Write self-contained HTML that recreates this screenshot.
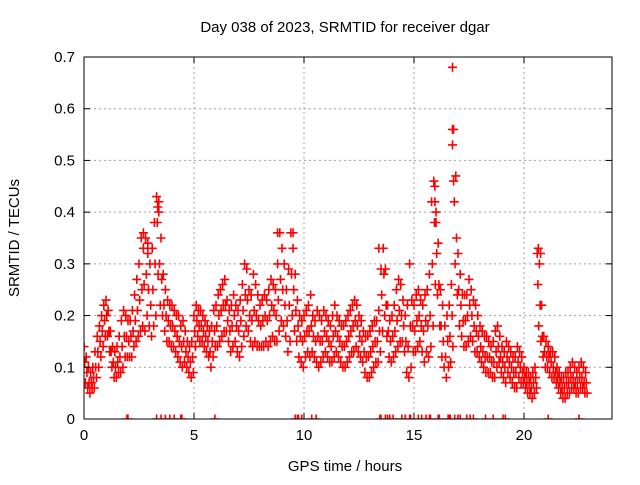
<!DOCTYPE html>
<html><head><meta charset="utf-8"><style>
body{margin:0;background:#fff}
svg text{font-family:"Liberation Sans",sans-serif;font-size:15px;fill:#000}
</style></head><body>
<svg id="chart" width="640" height="480" viewBox="0 0 640 480" xmlns="http://www.w3.org/2000/svg">
<rect width="640" height="480" fill="#fff"/>
<text x="345" y="32" text-anchor="middle">Day 038 of 2023, SRMTID for receiver dgar</text>
<text transform="translate(19,238) rotate(-90)" text-anchor="middle">SRMTID / TECUs</text>
<text x="345" y="471" text-anchor="middle">GPS time / hours</text>
<g id="grid"></g>
<g id="marks"></g>
<g id="axes"></g>
</svg>
<script>
const xTicks=[0,5,10,15,20];
const yTicks=[0,0.1,0.2,0.3,0.4,0.5,0.6,0.7];
const yTickLabels=["0","0.1","0.2","0.3","0.4","0.5","0.6","0.7"];
const startTime=0, timeStep=0.1;
const srmtidHigh=[.14,.12,.10,.09,.10,.13,.16,.18,.20,.22,
.23,.21,.17,.14,.13,.14,.16,.19,.21,.20,
.19,.19,.21,.24,.27,.30,.35,.33,.35,.32,
.30,.33,.38,.43,.42,.35,.28,.25,.23,.22,
.22,.21,.20,.20,.18,.19,.17,.15,.14,.15,
.20,.22,.21,.21,.20,.19,.18,.17,.18,.21,
.22,.24,.25,.26,.27,.23,.21,.22,.24,.22,
.21,.23,.26,.30,.29,.25,.24,.28,.26,.24,
.22,.23,.24,.23,.25,.27,.26,.25,.30,.36,
.33,.30,.25,.29,.36,.33,.28,.23,.20,.19,
.20,.21,.22,.24,.20,.19,.21,.20,.19,.21,
.20,.19,.18,.20,.22,.20,.19,.18,.18,.19,
.20,.21,.22,.23,.22,.20,.19,.17,.16,.16,
.17,.18,.19,.19,.21,.29,.33,.29,.22,.19,
.20,.22,.25,.27,.26,.23,.20,.22,.30,.23,
.22,.24,.25,.23,.22,.24,.25,.28,.42,.46,
.40,.34,.25,.22,.18,.20,.22,.26,.56,.47,
.32,.28,.24,.24,.24,.27,.25,.23,.22,.20,
.18,.17,.16,.16,.15,.14,.15,.17,.18,.16,
.14,.13,.15,.14,.13,.12,.12,.14,.13,.12,
.10,.09,.09,.08,.09,.10,.32,.30,.22,.16,
.15,.14,.13,.13,.12,.10,.09,.08,.08,.09,
.09,.10,.11,.10,.09,.10,.11,.10,.09];
const srmtidMid=[.11,.09,.07,.07,.08,.10,.13,.15,.17,.19,
.20,.17,.13,.11,.10,.11,.12,.14,.16,.16,
.15,.16,.17,.19,.21,.23,.25,.26,.28,.25,
.22,.25,.30,.38,.30,.27,.22,.20,.19,.18,
.18,.17,.16,.15,.14,.15,.13,.12,.11,.12,
.17,.19,.18,.18,.17,.16,.15,.13,.15,.17,
.18,.20,.21,.22,.22,.19,.17,.18,.20,.18,
.17,.19,.21,.24,.23,.20,.19,.21,.20,.19,
.18,.19,.20,.19,.20,.22,.21,.20,.23,.27,
.25,.22,.19,.22,.28,.25,.21,.18,.16,.15,
.16,.17,.17,.18,.16,.15,.16,.15,.15,.17,
.16,.15,.14,.16,.17,.16,.15,.14,.14,.15,
.16,.17,.18,.19,.18,.16,.15,.13,.12,.12,
.13,.14,.15,.15,.17,.24,.28,.22,.17,.15,
.16,.17,.19,.21,.20,.18,.15,.14,.18,.18,
.17,.19,.20,.18,.17,.19,.18,.20,.30,.38,
.32,.26,.18,.15,.12,.15,.16,.20,.42,.35,
.25,.22,.19,.19,.20,.22,.20,.18,.17,.16,
.14,.13,.12,.12,.12,.11,.11,.13,.14,.12,
.11,.10,.12,.11,.10,.09,.09,.11,.10,.09,
.08,.07,.07,.06,.07,.08,.26,.22,.16,.13,
.12,.12,.11,.10,.09,.08,.07,.06,.06,.07,
.07,.08,.08,.07,.07,.08,.08,.07,.07];
const srmtidLow=[.07,.06,.05,.06,.06,.08,.10,.12,.14,.16,
.16,.13,.10,.08,.08,.09,.09,.10,.12,.12,
.12,.12,.14,.15,.16,.17,.18,.17,.20,.18,
.16,.18,.20,.28,.22,.20,.17,.15,.15,.14,
.14,.13,.12,.11,.10,.11,.10,.09,.08,.09,
.14,.16,.15,.15,.14,.13,.12,.10,.12,.14,
.14,.15,.16,.17,.17,.15,.13,.14,.15,.13,
.12,.14,.16,.18,.17,.15,.14,.15,.14,.14,
.14,.14,.15,.14,.15,.16,.15,.15,.17,.19,
.18,.16,.13,.15,.20,.17,.15,.12,.11,.10,
.12,.13,.12,.13,.12,.11,.10,.11,.12,.13,
.12,.11,.11,.12,.13,.12,.11,.10,.10,.11,
.12,.13,.13,.14,.13,.12,.11,.09,.08,.08,
.09,.10,.11,.11,.13,.17,.20,.16,.12,.11,
.12,.13,.14,.15,.15,.13,.09,.08,.10,.13,
.13,.14,.15,.13,.11,.13,.12,.14,.18,.26,
.24,.18,.12,.10,.08,.10,.11,.14,.30,.24,
.18,.16,.14,.14,.15,.16,.15,.13,.13,.12,
.11,.10,.09,.09,.09,.08,.08,.10,.11,.09,
.08,.07,.09,.08,.07,.06,.06,.08,.07,.07,
.06,.05,.05,.04,.05,.06,.18,.15,.12,.10,
.10,.09,.08,.08,.07,.06,.05,.04,.04,.05,
.05,.06,.06,.05,.05,.06,.06,.05,.05];
const spikeTimes=[3.3,3.35,3.4,16.75,16.75,16.75,16.8,15.9,15.95,15.95,16.0,8.8,9.5,13.4,20.65,20.75,2.7,2.9];
const spikeValues=[.43,.41,.40,.68,.56,.53,.46,.46,.45,.42,.38,.36,.36,.33,.33,.32,.36,.34];
const zeroTimes=[1.95,2.0,3.3,3.5,3.7,3.9,4.1,4.4,4.45,5.95,9.6,9.7,9.75,9.9,10.35,10.55,13.45,13.5,13.7,13.8,13.9,14.05,14.45,14.6,14.8,14.85,15.2,15.35,15.55,15.7,15.75,16.1,16.15,16.55,16.6,16.65,16.85,17.0,17.1,17.4,17.55,17.7,18.25,18.6,19.05,19.15,21.1,22.5];

const L=84,R=612,T=57,B=419;
const xs=h=>L+h*(R-L)/24;
const ys=v=>B-v*(B-T)/0.7;
const NS="http://www.w3.org/2000/svg";
const grid=document.getElementById('grid'),marks=document.getElementById('marks'),axes=document.getElementById('axes');
function mk(tag,attrs,parent){const e=document.createElementNS(NS,tag);for(const k in attrs)e.setAttribute(k,attrs[k]);parent.appendChild(e);return e;}

xTicks.forEach(t=>{
  if(t>0){const g=mk('line',{x1:xs(t),x2:xs(t),y1:T,y2:B,stroke:'#a0a0a0','stroke-dasharray':'2,3'},grid);
  
  }
  const tk=mk('line',{x1:xs(t),x2:xs(t),y1:B,y2:B-6,stroke:'#000'},axes);
  
  
  const tk2=mk('line',{x1:xs(t),x2:xs(t),y1:T,y2:T+6,stroke:'#000'},axes);
  
  
  const lb=mk('text',{x:xs(t),y:B+21,'text-anchor':'middle'},axes);lb.textContent=String(t);
  
  
});
yTicks.forEach((v,i)=>{
  if(v>0&&v<0.7){const g=mk('line',{x1:L,x2:R,y1:ys(v),y2:ys(v),stroke:'#a0a0a0','stroke-dasharray':'2,3'},grid);
  
  }
  const tk=mk('line',{x1:L,x2:L+6,y1:ys(v),y2:ys(v),stroke:'#000'},axes);
  
  
  const tk2=mk('line',{x1:R,x2:R-6,y1:ys(v),y2:ys(v),stroke:'#000'},axes);
  
  
  const lb=mk('text',{x:L-9,y:ys(v)+5,'text-anchor':'end'},axes);lb.textContent=yTickLabels[i];
  
  
});
const frame=mk('rect',{x:L,y:T,width:R-L,height:B-T,fill:'none',stroke:'#000'},axes);



let d='';
function plus(h,v){const x=xs(h),y=ys(v);d+=`M${(x-4.5).toFixed(1)} ${y.toFixed(1)}h9M${x.toFixed(1)} ${(y-4.5).toFixed(1)}v9`;}
// each array is sampled at a staggered offset within the 0.1 h step
[[srmtidHigh,0],[srmtidMid,0.033],[srmtidLow,0.066]].forEach(([arr,off])=>arr.forEach((v,i)=>plus(startTime+i*timeStep+off,v)));
spikeTimes.forEach((t,i)=>plus(t,spikeValues[i]));
zeroTimes.forEach(t=>plus(t,0));
const clip=mk('clipPath',{id:'pc'},marks);
mk('rect',{x:L,y:T,width:R-L,height:B-T},clip);
const p=mk('path',{d:d,stroke:'#ff0000','stroke-width':1.6,fill:'none','clip-path':'url(#pc)'},marks);


</script>
</body></html>
